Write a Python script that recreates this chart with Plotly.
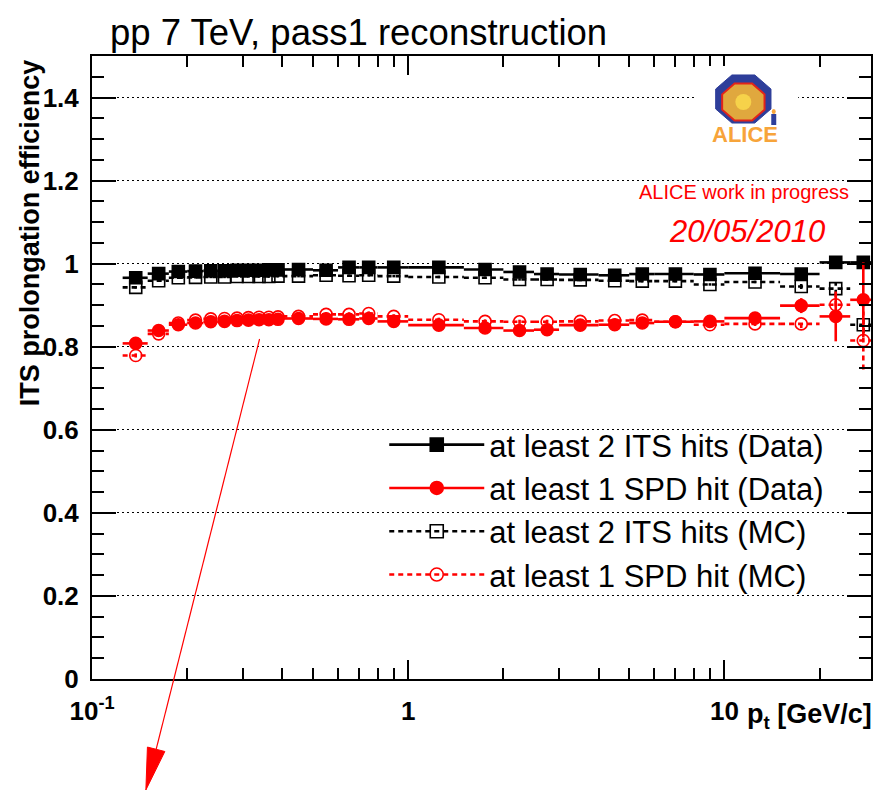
import plotly.graph_objects as go
import math

# ---------------- data ----------------
pt = [0.1375, 0.1625, 0.1875, 0.2125, 0.2375, 0.2625, 0.2875, 0.3125, 0.3375, 0.3625,
      0.3875, 0.45, 0.55, 0.65, 0.75, 0.9, 1.25, 1.75, 2.25, 2.75,
      3.5, 4.5, 5.5, 7.0, 9.0, 12.5, 17.5, 22.5, 27.5]
pt_halfwidth = [0.0125] * 11 + [0.05, 0.05, 0.05, 0.05, 0.1, 0.25, 0.25, 0.25, 0.25,
                                0.5, 0.5, 0.5, 1.0, 1.0, 2.5, 2.5, 2.5, 2.5]

its_data = [0.966, 0.976, 0.981, 0.982, 0.983, 0.983, 0.984, 0.984, 0.984, 0.985,
            0.985, 0.986, 0.984, 0.991, 0.991, 0.991, 0.991, 0.986, 0.980, 0.975,
            0.974, 0.972, 0.975, 0.975, 0.974, 0.977, 0.975, 1.003, 1.003]
its_data_err = [0.003] * 27 + [0.006, 0.008]

spd_data = [0.808, 0.839, 0.853, 0.857, 0.860, 0.861, 0.863, 0.864, 0.865, 0.865,
            0.866, 0.868, 0.867, 0.866, 0.868, 0.861, 0.852, 0.845, 0.839, 0.841,
            0.852, 0.853, 0.857, 0.860, 0.861, 0.869, 0.899, 0.873, 0.913]
spd_data_err = [0.006] + [0.004] * 24 + [0.008, 0.018, 0.06, 0.09]

its_mc = [0.943, 0.959, 0.966, 0.967, 0.968, 0.968, 0.969, 0.969, 0.969, 0.969,
          0.970, 0.970, 0.972, 0.971, 0.972, 0.970, 0.968, 0.966, 0.962, 0.962,
          0.961, 0.959, 0.958, 0.958, 0.950, 0.956, 0.945, 0.940, 0.853]
its_mc_err = [0.003] * 26 + [0.006, 0.015, 0.02]

spd_mc = [0.779, 0.831, 0.857, 0.864, 0.867, 0.868, 0.869, 0.870, 0.871, 0.871,
          0.872, 0.873, 0.878, 0.878, 0.880, 0.873, 0.865, 0.861, 0.860, 0.860,
          0.861, 0.863, 0.864, 0.860, 0.853, 0.855, 0.855, 0.901, 0.815]
spd_mc_err = [0.005] * 26 + [0.01, 0.025, 0.07]

legend_names = ["at least 2 ITS hits (Data)", "at least 1 SPD hit (Data)",
                "at least 2 ITS hits (MC)", "at least 1 SPD hit (MC)"]

x_tickvals = [0.1, 1, 10]
x_ticktext = ["10<sup>-1</sup>", "1", "10"]
x_minorvals = [0.2, 0.3, 0.4, 0.5, 0.6, 0.7, 0.8, 0.9, 2, 3, 4, 5, 6, 7, 8, 9, 20]

# ---------------- geometry helpers (for decorations only) ----------------
W, H = 878, 792
ML, MR, MT, MB = 92, 5, 56, 113
PW, PH = W - ML - MR, H - MT - MB


def px(xp):
    return (xp - ML) / PW


def py(yp):
    return (H - MB - yp) / PH


def segments(x, xe, y, ye):
    sx, sy = [], []
    for xi, xei, yi, yei in zip(x, xe, y, ye):
        sx += [xi - xei, xi + xei, None, xi, xi, None]
        sy += [yi, yi, None, yi - yei, yi + yei, None]
    return sx, sy


FONT = "Liberation Sans, Arial, Helvetica, sans-serif"
fig = go.Figure()

series = [
    (legend_names[2], its_mc, its_mc_err, "black", "square-open", "5px,4px"),
    (legend_names[3], spd_mc, spd_mc_err, "red", "circle-open", "5px,4px"),
    (legend_names[0], its_data, its_data_err, "black", "square", "solid"),
    (legend_names[1], spd_data, spd_data_err, "red", "circle", "solid"),
]

for name, yv, ye, col, sym, dash in series:
    sx, sy = segments(pt, pt_halfwidth, yv, ye)
    fig.add_trace(go.Scatter(x=sx, y=sy, mode="lines", showlegend=False,
                             line=dict(color=col, width=2.6, dash=dash),
                             hoverinfo="skip", legendgroup=name))
    fig.add_trace(go.Scatter(x=pt, y=yv, mode="markers", showlegend=False,
                             marker=dict(symbol=sym, size=12, color=col,
                                         line=dict(color=col, width=1.6)),
                             legendgroup=name, name=name))

# legend entries (order as in reference)
legend_order = [series[2], series[3], series[0], series[1]]
for name, yv, ye, col, sym, dash in legend_order:
    fig.add_trace(go.Scatter(x=[None], y=[None], mode="lines+markers", name=name,
                             line=dict(color=col, width=2.6, dash=dash),
                             marker=dict(symbol=sym, size=13, color=col,
                                         line=dict(color=col, width=1.6)),
                             legendgroup=name))

fig.update_layout(
    width=W, height=H,
    margin=dict(l=ML, r=MR, t=MT, b=MB, pad=0),
    paper_bgcolor="white", plot_bgcolor="white",
    font=dict(family=FONT, color="black"),
    showlegend=True,
    legend=dict(x=px(385), y=py(418), xanchor="left", yanchor="top",
                bgcolor="rgba(0,0,0,0)", font=dict(size=31, family=FONT),
                tracegroupgap=0, itemwidth=95, traceorder="grouped"),
    xaxis=dict(type="log", range=[-1, 1.4637], showgrid=False, zeroline=False,
               showline=True, linecolor="black", linewidth=2, mirror="allticks",
               ticks="inside", ticklen=19, tickwidth=1.5, tickcolor="black",
               tickmode="array", tickvals=x_tickvals, ticktext=x_ticktext,
               tickfont=dict(size=26, family=FONT, weight="bold"),
               ticklabelstandoff=8,
               minor=dict(tickmode="array", tickvals=x_minorvals, ticks="inside",
                          ticklen=11, tickwidth=1.5, tickcolor="black", showgrid=False)),
    yaxis=dict(range=[0, 1.5], showgrid=True, gridcolor="black", gridwidth=1.3,
               griddash="2px,3px", zeroline=False,
               showline=True, linecolor="black", linewidth=2, mirror="allticks",
               ticks="inside", ticklen=24, tickwidth=1.5, tickcolor="black",
               tickmode="linear", tick0=0, dtick=0.2,
               tickfont=dict(size=26, family=FONT, weight="bold"),
               ticklabelstandoff=6,
               minor=dict(dtick=0.05, tick0=0, ticks="inside", ticklen=12,
                          tickwidth=1.5, tickcolor="black", showgrid=False)),
)

annotations = [
    dict(text="pp 7 TeV, pass1 reconstruction", x=px(108), y=py(33), xanchor="left",
         yanchor="middle", font=dict(size=36.5, family=FONT, color="black")),
    dict(text="<b>ITS prolongation efficiency</b>", x=px(30), y=py(233), xanchor="center",
         yanchor="middle", textangle=-90, font=dict(size=27, family=FONT, color="black")),
    dict(text="<b>p<sub>t</sub> [GeV/c]</b>", x=px(876), y=py(716), xanchor="right",
         yanchor="middle", font=dict(size=27, family=FONT, color="black")),
    dict(text="ALICE work in progress", x=px(853), y=py(192), xanchor="right",
         yanchor="middle", font=dict(size=20, family=FONT, color="red")),
    dict(text="<i>20/05/2010</i>", x=px(829), y=py(231), xanchor="right",
         yanchor="middle", font=dict(size=31, family=FONT, color="red")),
    dict(text="<b>ALICE</b>", x=px(747), y=py(135), xanchor="center",
         yanchor="middle", font=dict(size=22, family=FONT, color="#F7A43A")),
]
for a in annotations:
    a.update(xref="paper", yref="paper", showarrow=False)
    fig.add_annotation(**a)


def octagon(cx, cy, rx, ry):
    pts = []
    for k in range(8):
        ang = math.radians(22.5 + 45 * k)
        pts.append((px(cx + rx * math.cos(ang)), py(cy + ry * math.sin(ang))))
    return "M " + " L ".join(f"{a:.5f},{b:.5f}" for a, b in pts) + " Z"


shapes = [
    dict(type="rect", x0=px(697), x1=px(800), y0=py(150), y1=py(66),
         fillcolor="white", line=dict(width=0), layer="above"),
    dict(type="path", path=octagon(745, 99, 30, 26), fillcolor="#2E3E9A",
         line=dict(color="#2E3E9A", width=1), layer="above"),
    dict(type="path", path=octagon(745, 102, 23, 20), fillcolor="#E0A83E",
         line=dict(color="#E2231A", width=2), layer="above"),
    dict(type="circle", x0=px(737), x1=px(753), y0=py(110), y1=py(94),
         fillcolor="#F6D24A", line=dict(width=0), layer="above"),
    dict(type="rect", x0=px(773), x1=px(778), y0=py(125), y1=py(114),
         fillcolor="#2E3E9A", line=dict(width=0), layer="above"),
    dict(type="circle", x0=px(773.5), x1=px(777.5), y0=py(114), y1=py(109),
         fillcolor="#F7A43A", line=dict(width=0), layer="above"),
]
tail = (260, 339)
tip = (146, 790)
dx, dy = tip[0] - tail[0], tip[1] - tail[1]
L = math.hypot(dx, dy)
ux, uy = dx / L, dy / L
hl, hw = 42, 9
bx, by = tip[0] - hl * ux, tip[1] - hl * uy
pxp, pyp = -uy, ux
shapes.append(dict(type="line", x0=px(tail[0]), y0=py(tail[1]), x1=px(bx), y1=py(by),
                   line=dict(color="red", width=1.2), layer="above"))
shapes.append(dict(type="path",
                   path=(f"M {px(tip[0]):.5f},{py(tip[1]):.5f} "
                         f"L {px(bx + hw * pxp):.5f},{py(by + hw * pyp):.5f} "
                         f"L {px(bx - hw * pxp):.5f},{py(by - hw * pyp):.5f} Z"),
                   fillcolor="red", line=dict(color="red", width=1), layer="above"))
for s in shapes:
    s.update(xref="paper", yref="paper")
    fig.add_shape(**s)

fig.write_html("out.html")
